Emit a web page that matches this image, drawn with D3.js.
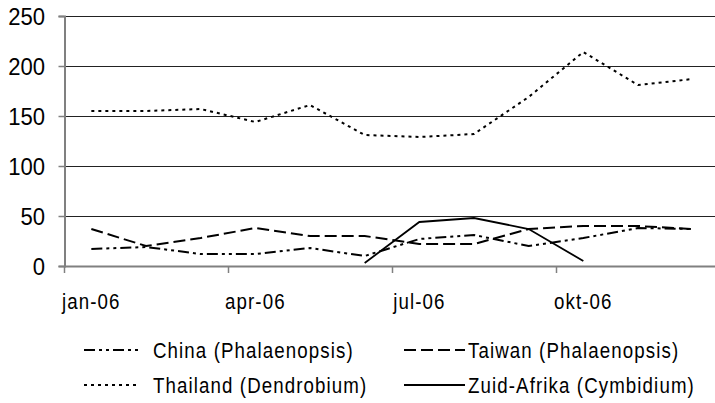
<!DOCTYPE html>
<html lang="nl">
<head>
<meta charset="UTF-8">
<title>Import orchideeën 2006</title>
<script src="https://cdnjs.cloudflare.com/ajax/libs/d3/7.8.5/d3.min.js"></script>
<style>
    body { margin: 0; background: #fff; }
    svg { display: block; }
    text { font-family: "Liberation Sans", Arial, sans-serif; fill: #000; }
    .ylab { font-size: 24px; }
    .narrow { font-size: 22px; letter-spacing: 1.3px; }
</style>
</head>
<body>
<svg width="715" height="403"></svg>
<script>
    // Data
    const months = ["jan-06", "feb-06", "mrt-06", "apr-06", "mei-06", "jun-06",
                    "jul-06", "aug-06", "sep-06", "okt-06", "nov-06", "dec-06"];
    const yTicks = [0, 50, 100, 150, 200, 250];

    const china    = [17, 19, 12, 12, 18, 10, 27, 31, 20, 28, 38, 37];
    const taiwan   = [37, 20, 28, 38, 30, 30, 22, 22, 37, 40, 40, 37];
    const thailand = [155, 155, 157, 144, 161, 131, 129, 132, 169, 214, 181, 187];
    // Zuid-Afrika only from jun to okt
    const zuidAfrika = [null, null, null, null, null, 3, 44, 48, 37, 5, null, null];

    const series = [
        { name: "China (Phalaenopsis)",    values: china,      dash: "11,4,3,4,3,4" },
        { name: "Taiwan (Phalaenopsis)",   values: taiwan,     dash: "12,5" },
        { name: "Thailand (Dendrobium)",   values: thailand,   dash: "3,4" },
        { name: "Zuid-Afrika (Cymbidium)", values: zuidAfrika, dash: null }
    ];

    const svg = d3.select("svg");

    const x = d3.scaleBand().domain(months).range([64, 720]);
    const y = d3.scaleLinear().domain([0, 250]).range([266, 16]);
    const cx = m => x(m) + x.bandwidth() / 2;

    // text squeezed horizontally, the chart font is a narrow one
    function squeezed(sel, cls, sx, anchor) {
        const g = sel.append("g").attr("transform", d => `translate(${d.tx},${d.ty})`);
        g.append("text")
            .attr("class", cls)
            .attr("transform", `scale(${sx},1)`)
            .attr("text-anchor", anchor)
            .text(d => d.label);
        return g;
    }

    // gridlines
    svg.append("g")
        .selectAll("line")
        .data(yTicks.filter(t => t > 0))
        .join("line")
        .attr("x1", 64).attr("x2", 720)
        .attr("y1", d => y(d) + 0.5).attr("y2", d => y(d) + 0.5)
        .attr("stroke", "#222")
        .attr("stroke-width", 1);

    // y axis
    const yAxis = svg.append("g")
        .attr("transform", "translate(64.5,0)")
        .call(d3.axisLeft(y).tickValues(yTicks).tickSize(6).tickFormat(""));
    yAxis.select(".domain").attr("stroke", "#808080").attr("stroke-width", 2);
    yAxis.selectAll(".tick line").attr("stroke", "#808080").attr("stroke-width", 1.5);

    squeezed(svg.append("g").selectAll("g")
            .data(yTicks.map(t => ({ label: t, tx: 45, ty: y(t) + 9 })))
            .join("g"), "ylab", 0.92, "end");

    // x axis
    const xAxis = svg.append("g");
    xAxis.append("line")
        .attr("x1", 64).attr("x2", 720)
        .attr("y1", y(0) + 0.5).attr("y2", y(0) + 0.5)
        .attr("stroke", "#808080").attr("stroke-width", 2);
    const shown = months.filter((m, i) => i % 3 === 0);
    xAxis.selectAll(".xtick")
        .data(shown)
        .join("line")
        .attr("x1", d => Math.round(x(d)) + 0.5).attr("x2", d => Math.round(x(d)) + 0.5)
        .attr("y1", y(0)).attr("y2", y(0) + 7)
        .attr("stroke", "#808080").attr("stroke-width", 1.5);
    squeezed(xAxis.append("g").selectAll("g")
            .data(shown.map(m => ({ label: m, tx: cx(m), ty: 309 })))
            .join("g"), "narrow", 0.85, "middle");

    // lines
    const line = d3.line()
        .defined(d => d != null)
        .x((d, i) => cx(months[i]))
        .y(d => y(d));

    svg.append("g")
        .selectAll("path")
        .data(series)
        .join("path")
        .attr("d", s => line(s.values))
        .attr("fill", "none")
        .attr("stroke", "#000")
        .attr("stroke-width", s => s.dash ? 2 : 1.8)
        .attr("stroke-dasharray", s => s.dash);

    // legend, two columns
    const legendX = [[84, 140, 153], [404, 465, 468]];
    const legendY = [350, 385];
    const leg = svg.append("g")
        .selectAll("g")
        .data(series)
        .join("g")
        .attr("transform", (s, i) => `translate(0,${legendY[Math.floor(i / 2)]})`);
    leg.append("line")
        .attr("x1", (s, i) => legendX[i % 2][0])
        .attr("x2", (s, i) => legendX[i % 2][1])
        .attr("stroke", "#000")
        .attr("stroke-width", s => s.dash ? 2 : 1.8)
        .attr("stroke-dasharray", s => s.dash);
    squeezed(leg.datum((s, i) => ({ label: s.name, tx: legendX[i % 2][2], ty: 8 })),
        "narrow", 0.85, "start");
</script>
</body>
</html>
